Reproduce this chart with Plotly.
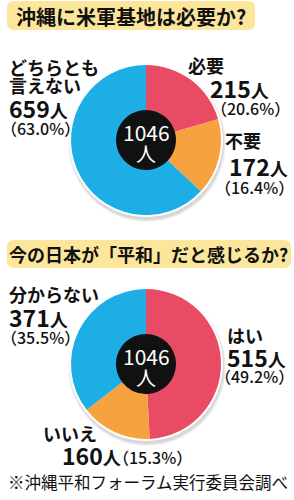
import plotly.graph_objects as go

# ---- data ----
q1_title = "沖縄に米軍基地は必要か?"
q1_labels = ["必要", "不要", "どちらとも言えない"]
q1_counts = [215, 172, 659]
q1_pcts = [20.6, 16.4, 63.0]

q2_title = "今の日本が「平和」だと感じるか?"
q2_labels = ["はい", "いいえ", "分からない"]
q2_counts = [515, 160, 371]
q2_pcts = [49.2, 15.3, 35.5]

total = 1046
source = "※沖縄平和フォーラム実行委員会調べ"

colors = ["#E94B64", "#F6A23E", "#1DAEE5"]
W, H = 294, 500
FONT = "Noto Sans CJK JP"

fig = go.Figure()

def add_pie(values, labels, cx, cy, r):
    fig.add_trace(go.Pie(
        values=values, labels=labels, sort=False, direction="clockwise", rotation=0,
        hole=0.4, textinfo="none", hoverinfo="skip", showlegend=False,
        marker=dict(colors=colors, line=dict(width=0)),
        domain=dict(x=[(cx - r) / W, (cx + r) / W], y=[1 - (cy + r) / H, 1 - (cy - r) / H]),
    ))

shapes = []
def circle(cx, cy, r, color, opacity=1.0):
    shapes.append(dict(type="circle", xref="x", yref="y", x0=cx - r, x1=cx + r, y0=cy - r, y1=cy + r,
                       fillcolor=color, line=dict(width=0), layer="below", opacity=opacity))

def rrect(x0, y0, x1, y1, rad, color):
    p = (f"M{x0+rad},{y0} L{x1-rad},{y0} Q{x1},{y0} {x1},{y0+rad} L{x1},{y1-rad} Q{x1},{y1} {x1-rad},{y1} "
         f"L{x0+rad},{y1} Q{x0},{y1} {x0},{y1-rad} L{x0},{y0+rad} Q{x0},{y0} {x0+rad},{y0} Z")
    shapes.append(dict(type="path", xref="x", yref="y", path=p, fillcolor=color, line=dict(width=0), layer="below"))

ann = []
def text(x, y, s, size, anchor="left", bold=False, color="#111111", weight=None):
    f = dict(family=FONT, size=size, color=color)
    if weight:
        f["weight"] = weight
    ann.append(dict(x=x, y=y, xref="x", yref="y", text=(f"<b>{s}</b>" if bold else s), showarrow=False,
                    xanchor=anchor, yanchor="middle", font=f, borderpad=0))

def count_txt(n):
    return f"<b>{n}<span style='font-size:18px'>人</span></b>"

def pct_txt(p):
    return f"（{p:.1f}%）"

def pie_block(values, labels, cx, cy, r):
    for k, op in [(6, 0.10), (5, 0.15), (4, 0.2)]:
        circle(cx + 1, cy + 3, r + k - 2, "#9a9a9a", op)
    circle(cx, cy, r + 2, "#ffffff")
    circle(cx, cy, r * 0.41, "#111111")
    add_pie(values, labels, cx, cy, r)
    text(cx, cy - 8, str(total), 21, "center", color="white")
    text(cx, cy + 13, "人", 20, "center", color="white")

# ---- titles ----
rrect(7, 1, 255, 30, 7, "#FBE69C")
text(131, 16, q1_title, 20, "center", bold=True)
rrect(7, 240, 291, 268, 7, "#FBE69C")
text(148, 254, q2_title, 18, "center", bold=True)

PCT = 16
PW = 500
# ---- pie 1 ----
pie_block(q1_counts, q1_labels, 146, 140, 75)
text(8, 67, q1_labels[2][:5], 18, bold=True)
text(8, 85, q1_labels[2][5:], 18, bold=True)
text(8, 108, count_txt(q1_counts[2]), 23)
text(0, 128, pct_txt(q1_pcts[2]), PCT, weight=PW)
text(187, 65, q1_labels[0], 18, bold=True)
text(209, 88, count_txt(q1_counts[0]), 23)
text(210, 108, pct_txt(q1_pcts[0]), PCT, weight=PW)
text(224, 140, q1_labels[1], 18, bold=True)
text(228, 166, count_txt(q1_counts[1]), 23)
text(214, 187, pct_txt(q1_pcts[1]), PCT, weight=PW)

# ---- pie 2 ----
pie_block(q2_counts, q2_labels, 146, 364, 75)
text(8, 294, q2_labels[2], 18, bold=True)
text(8, 317, count_txt(q2_counts[2]), 23)
text(0, 337, pct_txt(q2_pcts[2]), PCT, weight=PW)
text(226, 335, q2_labels[0], 18, bold=True)
text(226, 357, count_txt(q2_counts[0]), 23)
text(214, 376, pct_txt(q2_pcts[0]), PCT, weight=PW)
text(42, 433, q2_labels[1], 18, bold=True)
text(61, 455, count_txt(q2_counts[1]), 23)
text(112, 457, pct_txt(q2_pcts[1]), PCT, weight=PW)

# ---- source ----
text(148, 482, source, 16.5, "center")

fig.update_layout(
    width=W, height=H, margin=dict(l=0, r=0, t=0, b=0),
    paper_bgcolor="white", plot_bgcolor="white",
    xaxis=dict(range=[0, W], visible=False, fixedrange=True),
    yaxis=dict(range=[H, 0], visible=False, fixedrange=True),
    shapes=shapes, annotations=ann,
)
fig.write_html("out.html", config={"displayModeBar": False})
